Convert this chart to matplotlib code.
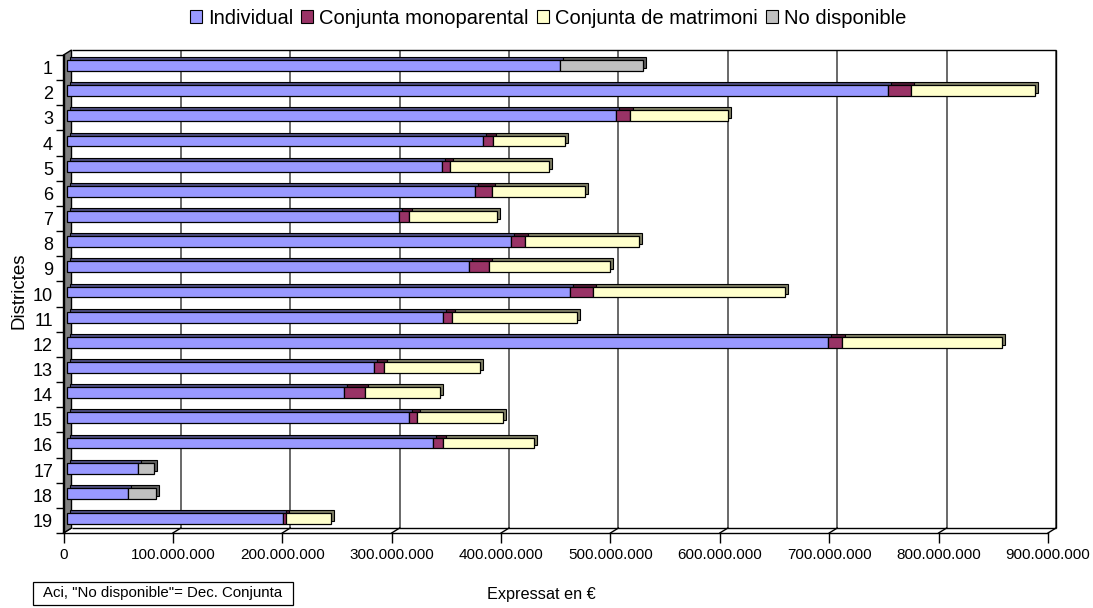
import matplotlib
matplotlib.use('Agg')
import matplotlib.pyplot as plt
import matplotlib.transforms as mtransforms
from matplotlib.patches import Polygon, Patch, Rectangle
from matplotlib.lines import Line2D
import numpy as np

plt.rcParams['font.family'] = ['Liberation Sans', 'DejaVu Sans']

# ---------------- data (millions of euros) ----------------
districts = [str(i) for i in range(1, 20)]
individual = [451, 751, 502, 381, 343, 373, 304, 406, 368, 460, 344, 696, 281, 254, 313, 335, 65, 56, 198]
monoparental = [0, 21, 13, 9, 8, 16, 9, 13, 18, 21, 8, 13, 9, 19, 7, 9, 0, 0, 3]
matrimoni = [0, 113, 90, 66, 90, 85, 81, 104, 111, 176, 115, 146, 88, 68, 79, 83, 0, 0, 41]
no_disponible = [76, 0, 0, 0, 0, 0, 0, 0, 0, 0, 0, 0, 0, 0, 0, 0, 15, 26, 0]
series_names = ['Individual', 'Conjunta monoparental', 'Conjunta de matrimoni', 'No disponible']
x_ticks = [0, 100e6, 200e6, 300e6, 400e6, 500e6, 600e6, 700e6, 800e6, 900e6]
x_tick_labels = ['0', '100.000.000', '200.000.000', '300.000.000', '400.000.000',
                 '500.000.000', '600.000.000', '700.000.000', '800.000.000', '900.000.000']

colors = ['#9999FF', '#993366', '#FFFFCC', '#C0C0C0']
shades = ['#4d4d80', '#4d1a33', '#808066', '#606060']

W, H = 1093, 608
fig = plt.figure(figsize=(W / 100, H / 100), dpi=100)
FX0, FX1, FY0, FY1 = 63.5, 1048.0, 55.0, 533.0
ax = fig.add_axes([FX0 / W, 1 - FY1 / H, (FX1 - FX0) / W, (FY1 - FY0) / H])
ax.set_xlim(0, 900e6)
ax.set_ylim(18.5, -0.5)
ax.set_facecolor('none')
for s in ['top', 'right']:
    ax.spines[s].set_visible(False)
ax.spines['bottom'].set_linewidth(1.0)
ax.spines['left'].set_linewidth(1.0)
ax.spines['bottom'].set_zorder(6)

DX, DY = 8, 5  # depth of back plane in pixels
back = mtransforms.offset_copy(ax.transData, fig=fig, x=DX, y=DY, units='dots')
ident = mtransforms.IdentityTransform()

# back plane gridlines and border
ax.vlines(x_ticks[1:], -0.5, 18.5, transform=back, colors='#404040', lw=1.1, zorder=1, clip_on=False)
ax.vlines([900e6], -0.5, 18.5, transform=back, colors='black', lw=1.0, zorder=1, clip_on=False)
ax.hlines([-0.5], 0, 900e6, transform=back, colors='black', lw=1.0, zorder=1, clip_on=False)
ax.hlines([18.5], 0, 900e6, transform=back, colors='black', lw=1.0, zorder=1, clip_on=False)

# floor slants
for xv in x_ticks:
    p = ax.transData.transform((xv, 18.5))
    ax.add_line(Line2D([p[0], p[0] + DX], [p[1], p[1] + DY], transform=ident,
                       color='black', lw=1.0, zorder=1, clip_on=False))

# left wall
pt = ax.transData.transform((0, -0.5))
pb = ax.transData.transform((0, 18.5))
wall = Polygon([pt, pt + [DX, DY], pb + [DX, DY], pb], closed=True, transform=ident,
               facecolor='#808080', edgecolor='black', lw=1.0, zorder=2, clip_on=False)
ax.add_patch(wall)

# bars
front_t = mtransforms.offset_copy(ax.transData, fig=fig, x=3, y=2, units='dots')
shade_t = mtransforms.offset_copy(ax.transData, fig=fig, x=6, y=5, units='dots')
y = np.arange(len(districts))
series = [np.array(individual) * 1e6, np.array(monoparental) * 1e6,
          np.array(matrimoni) * 1e6, np.array(no_disponible) * 1e6]
bh = 0.43
left = np.zeros(len(districts))
lefts = []
for vals in series:
    lefts.append(left.copy())
    left = left + vals
for i, vals in enumerate(series):
    m = vals > 0
    ax.barh(y[m], vals[m], left=lefts[i][m], height=bh, color=shades[i], edgecolor='black',
            lw=0.8, transform=shade_t, zorder=3, clip_on=False)
for i, vals in enumerate(series):
    m = vals > 0
    ax.barh(y[m], vals[m], left=lefts[i][m], height=bh, color=colors[i], edgecolor='black',
            lw=0.9, transform=front_t, zorder=4, clip_on=False)

# ticks
ax.set_xticks(x_ticks, x_tick_labels)
ax.tick_params(axis='x', length=7, width=1.0, labelsize=11, pad=4)
ax.set_yticks(y, districts)
ax.set_yticks(np.arange(-0.5, 19, 1), minor=True)
ax.tick_params(axis='y', which='major', length=0, labelsize=13, pad=7.5)
ax.tick_params(axis='y', which='minor', length=6, width=1.0)

# legend
handles = [Patch(facecolor=c, edgecolor='black', lw=0.8) for c in colors]
fig.legend(handles, series_names, loc='center', bbox_to_anchor=(548 / W, 1 - 18 / H), ncol=4,
           frameon=False, handlelength=0.6, handleheight=0.6, handletextpad=0.3,
           columnspacing=0.4, fontsize=14.5)

fig.text(19 / W, 1 - 291 / H, 'Districtes', rotation=90, ha='center', va='center', fontsize=13.5)
fig.text(541 / W, 1 - 594 / H, 'Expressat en €', ha='center', va='center', fontsize=11.7)

# note box
fig.add_artist(Rectangle((32.7 / W, 1 - 605 / H), (293 - 32.7) / W, 23 / H, transform=fig.transFigure,
                         facecolor='white', edgecolor='black', lw=0.9))
fig.text(163 / W, 1 - 593.5 / H, 'Aci, "No disponible"= Dec. Conjunta', ha='center', va='center',
         fontsize=10.8)

fig.savefig('out.png', dpi=100)
